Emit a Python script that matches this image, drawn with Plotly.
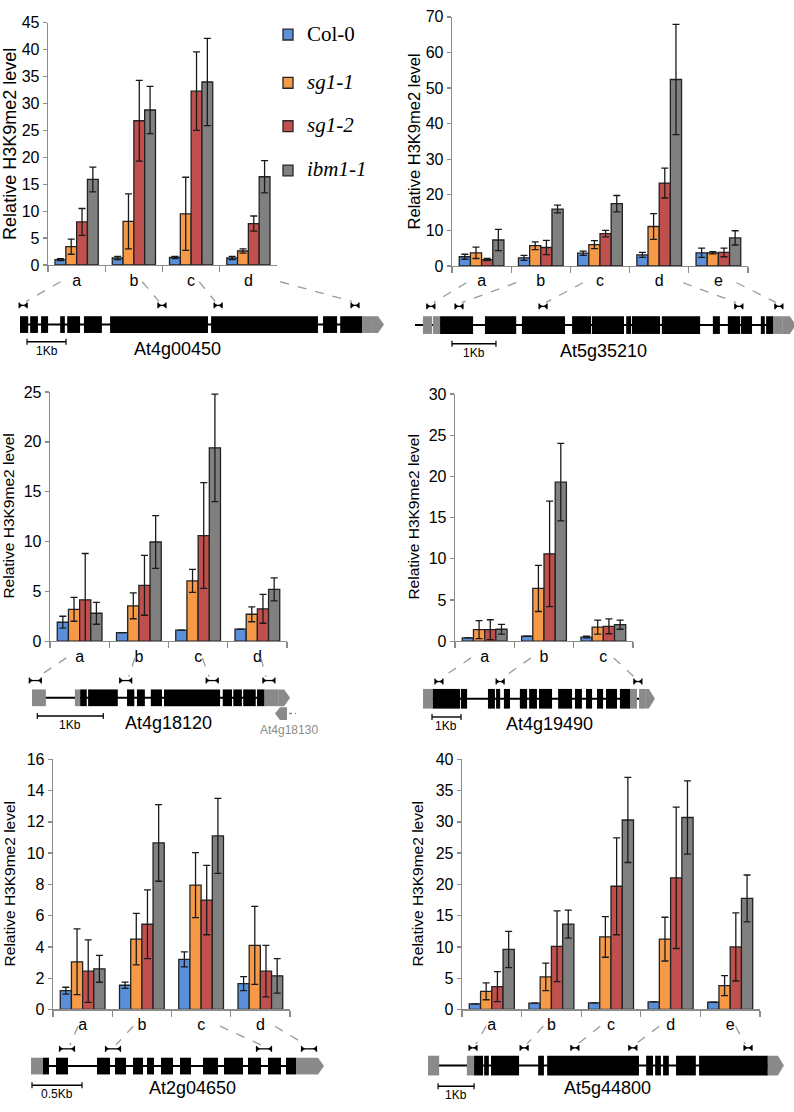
import plotly.graph_objects as go

W, H = 794, 1112

SERIES_NAMES = ["Col-0", "sg1-1", "sg1-2", "ibm1-1"]
SERIES_LABELS = ["Col-0", "<i>sg1-1</i>", "<i>sg1-2</i>", "<i>ibm1-1</i>"]
COLORS = ["#5b8fd9", "#f79a48", "#c0504d", "#808080"]

# ---------------- data: At4g00450 ----------------
G1_CATS = ["a", "b", "c", "d"]
G1_COL0 = [1.0, 1.3, 1.4, 1.3]
G1_COL0_ERR = [0.2, 0.3, 0.2, 0.3]
G1_SG11 = [3.4, 8.1, 9.5, 2.6]
G1_SG11_ERR = [1.4, 5.1, 6.8, 0.4]
G1_SG12 = [8.0, 26.8, 32.3, 7.7]
G1_SG12_ERR = [2.5, 7.5, 7.3, 1.4]
G1_IBM = [15.9, 28.8, 34.0, 16.4]
G1_IBM_ERR = [2.3, 4.4, 8.1, 3.0]

# ---------------- data: At5g35210 ----------------
G2_CATS = ["a", "b", "c", "d", "e"]
G2_COL0 = [2.6, 2.3, 3.6, 3.1, 3.7]
G2_COL0_ERR = [0.7, 0.7, 0.6, 0.7, 1.3]
G2_SG11 = [3.7, 5.7, 6.0, 11.1, 3.7]
G2_SG11_ERR = [1.6, 1.1, 1.1, 3.6, 0.3]
G2_SG12 = [1.8, 5.2, 9.1, 23.3, 3.8]
G2_SG12_ERR = [0.3, 2.0, 0.9, 4.2, 1.2]
G2_IBM = [7.3, 16.0, 17.5, 52.4, 7.9]
G2_IBM_ERR = [3.0, 1.1, 2.3, 15.5, 2.0]

# ---------------- data: At4g18120 ----------------
G3_CATS = ["a", "b", "c", "d"]
G3_COL0 = [1.9, 0.85, 1.1, 1.2]
G3_COL0_ERR = [0.6, 0.0, 0.0, 0.0]
G3_SG11 = [3.2, 3.55, 6.05, 2.7]
G3_SG11_ERR = [1.2, 1.3, 1.15, 0.75]
G3_SG12 = [4.15, 5.6, 10.6, 3.25]
G3_SG12_ERR = [4.65, 3.0, 5.3, 1.45]
G3_IBM = [2.8, 9.95, 19.4, 5.2]
G3_IBM_ERR = [1.1, 2.65, 5.4, 1.15]

# ---------------- data: At4g19490 ----------------
G4_CATS = ["a", "b", "c"]
G4_COL0 = [0.4, 0.6, 0.5]
G4_COL0_ERR = [0.0, 0.0, 0.1]
G4_SG11 = [1.4, 6.4, 1.7]
G4_SG11_ERR = [1.1, 2.8, 0.85]
G4_SG12 = [1.4, 10.6, 1.8]
G4_SG12_ERR = [1.2, 6.4, 0.9]
G4_IBM = [1.45, 19.3, 2.0]
G4_IBM_ERR = [0.6, 4.7, 0.55]

# ---------------- data: At2g04650 ----------------
G5_CATS = ["a", "b", "c", "d"]
G5_COL0 = [1.2, 1.55, 3.2, 1.65]
G5_COL0_ERR = [0.22, 0.2, 0.48, 0.45]
G5_SG11 = [3.05, 4.5, 7.95, 4.1]
G5_SG11_ERR = [2.1, 1.65, 2.08, 2.5]
G5_SG12 = [2.45, 5.45, 7.0, 2.45]
G5_SG12_ERR = [2.0, 2.2, 2.22, 1.65]
G5_IBM = [2.6, 10.65, 11.1, 2.15]
G5_IBM_ERR = [0.86, 2.45, 2.4, 1.1]

# ---------------- data: At5g44800 ----------------
G6_CATS = ["a", "b", "c", "d", "e"]
G6_COL0 = [0.9, 1.0, 1.05, 1.2, 1.15]
G6_COL0_ERR = [0.0, 0.0, 0.0, 0.0, 0.0]
G6_SG11 = [2.9, 5.2, 11.6, 11.25, 3.8]
G6_SG11_ERR = [1.35, 2.2, 3.25, 3.5, 1.6]
G6_SG12 = [3.65, 10.1, 19.7, 21.05, 10.0]
G6_SG12_ERR = [2.4, 5.65, 7.75, 11.3, 5.45]
G6_IBM = [9.6, 13.65, 30.3, 30.7, 17.75]
G6_IBM_ERR = [2.9, 2.25, 6.8, 5.85, 3.75]

# ---------------- gene structures (kb) ----------------
S1_EXONS = [(0, 0.21), (0.26, 0.46), (0.54, 0.72), (1.03, 1.15), (1.21, 1.54), (1.64, 2.10),
            (2.31, 4.82), (4.90, 7.64), (7.77, 8.13), (8.21, 8.77)]
S1_UTR = [(8.77, 9.05)]
S1_LINE = (0.0, 8.77)
S1_TIP = (9.05, 9.18)
S1_PRIMERS = [0.08, 3.64, 5.08, 8.59]

S2_EXONS = [(0.57, 1.32), (1.59, 2.30), (2.43, 3.41), (3.57, 4.00), (4.02, 4.75), (4.80, 4.91),
            (4.93, 5.57), (5.61, 6.48), (6.77, 6.93), (7.11, 7.39), (7.41, 7.66), (7.86, 7.95),
            (7.98, 8.14)]
S2_UTR = [(0.18, 0.39), (0.41, 0.57), (8.14, 8.36)]
S2_LINE = (0.0, 8.14)
S2_TIP = (8.36, 8.52)
S2_PRIMERS = [0.36, 1.00, 2.91, 7.36, 8.27]

S3_EXONS = [(0.73, 0.83), (0.85, 1.30), (1.44, 1.55), (1.59, 1.71), (1.80, 1.97), (2.00, 2.85),
            (2.89, 3.03), (3.05, 3.18), (3.20, 3.39), (3.41, 3.52)]
S3_UTR = [(0.0, 0.21), (0.65, 0.73), (3.52, 3.73)]
S3_LINE = (0.0, 3.52)
S3_TIP = (3.73, 3.82)
S3_PRIMERS = [0.05, 1.42, 2.73, 3.59]

S4_EXONS = [(0.34, 1.28), (1.31, 1.52), (2.24, 2.48), (2.52, 2.66), (2.79, 3.00), (3.34, 3.59),
            (3.66, 3.93), (4.00, 4.45), (4.66, 5.14), (5.24, 5.48), (5.62, 5.83), (6.00, 6.21),
            (6.31, 6.69), (6.79, 7.14)]
S4_UTR = [(0.0, 0.34), (7.14, 7.38), (7.45, 7.66)]
S4_LINE = (0.0, 7.45)
S4_TIP = (7.66, 7.79)
S4_PRIMERS = [0.55, 2.66, 7.41]

S5_EXONS = [(0.12, 0.18), (0.25, 0.37), (0.66, 0.79), (0.84, 0.95), (1.02, 1.12), (1.16, 1.23),
            (1.30, 1.42), (1.49, 1.60), (1.72, 1.87), (1.93, 2.12), (2.17, 2.30), (2.37, 2.50),
            (2.55, 2.65)]
S5_UTR = [(0.0, 0.12), (2.65, 2.82)]
S5_LINE = (0.0, 2.65)
S5_TIP = (2.82, 2.87)
S5_PRIMERS = [0.36, 0.82, 2.33, 2.78]

S6_EXONS = [(1.28, 1.53), (1.56, 1.69), (1.75, 2.53), (3.06, 3.22), (3.31, 5.86), (6.06, 6.25),
            (6.31, 6.47), (6.53, 6.69), (6.89, 7.44), (7.53, 9.44)]
S6_UTR = [(0.0, 0.31), (1.08, 1.28)]
S6_LINE = (0.0, 9.44)
S6_TIP = (9.44, 9.72)
S6_PRIMERS = [1.25, 2.67, 4.08, 5.69, 8.89]


def px(x):
    return x / W


def py(y):
    return 1 - y / H


PANELS = [
    dict(cats=G1_CATS, vals=[G1_COL0, G1_SG11, G1_SG12, G1_IBM],
         errs=[G1_COL0_ERR, G1_SG11_ERR, G1_SG12_ERR, G1_IBM_ERR],
         ymax=45, dtick=5, xd=(48, 277), yd=(15, 261), title_x=10, title_fs=18,
         gene="At4g00450", exons=S1_EXONS, utr=S1_UTR, line=S1_LINE, tip=S1_TIP, primers=S1_PRIMERS,
         origin=20, scale=39, gy=321.5, hh=8.5, pry=302, prw=8,
         bar=(0.18, 1.18), bar_y=339, bar_label="1Kb", name_xy=(177, 346)),
    dict(cats=G2_CATS, vals=[G2_COL0, G2_SG11, G2_SG12, G2_IBM],
         errs=[G2_COL0_ERR, G2_SG11_ERR, G2_SG12_ERR, G2_IBM_ERR],
         ymax=70, dtick=10, xd=(452, 748), yd=(9, 262), title_x=414, title_fs=16.5,
         gene="At5g35210", exons=S2_EXONS, utr=S2_UTR, line=S2_LINE, tip=S2_TIP, primers=S2_PRIMERS,
         origin=415, scale=44, gy=322, hh=9, pry=303, prw=8,
         bar=(0.84, 1.84), bar_y=341, bar_label="1Kb", name_xy=(603, 348)),
    dict(cats=G3_CATS, vals=[G3_COL0, G3_SG11, G3_SG12, G3_IBM],
         errs=[G3_COL0_ERR, G3_SG11_ERR, G3_SG12_ERR, G3_IBM_ERR],
         ymax=25, dtick=5, xd=(50, 287), yd=(390, 643), title_x=9, title_fs=15.5,
         gene="At4g18120", exons=S3_EXONS, utr=S3_UTR, line=S3_LINE, tip=S3_TIP, primers=S3_PRIMERS,
         origin=32, scale=66, gy=700.5, hh=8.5, pry=683, prw=12,
         bar=(0.08, 1.08), bar_y=719, bar_label="1Kb", name_xy=(168, 726)),
    dict(cats=G4_CATS, vals=[G4_COL0, G4_SG11, G4_SG12, G4_IBM],
         errs=[G4_COL0_ERR, G4_SG11_ERR, G4_SG12_ERR, G4_IBM_ERR],
         ymax=30, dtick=5, xd=(455, 633), yd=(392, 643), title_x=414, title_fs=15.5,
         gene="At4g19490", exons=S4_EXONS, utr=S4_UTR, line=S4_LINE, tip=S4_TIP, primers=S4_PRIMERS,
         origin=423, scale=29, gy=701.5, hh=10, pry=684, prw=8,
         bar=(0.31, 1.31), bar_y=720, bar_label="1Kb", name_xy=(549, 727)),
    dict(cats=G5_CATS, vals=[G5_COL0, G5_SG11, G5_SG12, G5_IBM],
         errs=[G5_COL0_ERR, G5_SG11_ERR, G5_SG12_ERR, G5_IBM_ERR],
         ymax=16, dtick=2, xd=(53, 290), yd=(763, 1017), title_x=9, title_fs=15.5,
         gene="At2g04650", exons=S5_EXONS, utr=S5_UTR, line=S5_LINE, tip=S5_TIP, primers=S5_PRIMERS,
         origin=31, scale=100, gy=1074.5, hh=8.5, pry=1057, prw=15,
         bar=(0.01, 0.51), bar_y=1094, bar_label="0.5Kb", name_xy=(192, 1097)),
    dict(cats=G6_CATS, vals=[G6_COL0, G6_SG11, G6_SG12, G6_IBM],
         errs=[G6_COL0_ERR, G6_SG11_ERR, G6_SG12_ERR, G6_IBM_ERR],
         ymax=40, dtick=5, xd=(462, 760), yd=(763, 1017), title_x=417, title_fs=15.5,
         gene="At5g44800", exons=S6_EXONS, utr=S6_UTR, line=S6_LINE, tip=S6_TIP, primers=S6_PRIMERS,
         origin=428, scale=36, gy=1074, hh=10, pry=1056, prw=8,
         bar=(0.28, 1.28), bar_y=1095, bar_label="1Kb", name_xy=(607, 1097)),
]

AXIS_GREY = "#8c8c8c"
TICK_FONT = dict(family="Liberation Sans, Arial, sans-serif", size=16, color="#000")

fig = go.Figure()
layout = dict(width=W, height=H, margin=dict(l=0, r=0, t=0, b=0), autosize=False,
              paper_bgcolor="white", plot_bgcolor="white", barmode="group",
              bargap=0.245, bargroupgap=0, showlegend=False)
shapes = []
annotations = []


def rect(x0, x1, y0, y1, color):
    shapes.append(dict(type="rect", xref="paper", yref="paper", x0=px(x0), x1=px(x1),
                       y0=py(y1), y1=py(y0), fillcolor=color, line=dict(width=0), layer="above"))


def seg(x0, y0, x1, y1, color, width, dash="solid"):
    shapes.append(dict(type="line", xref="paper", yref="paper", x0=px(x0), y0=py(y0),
                       x1=px(x1), y1=py(y1), line=dict(color=color, width=width, dash=dash), layer="above"))


def poly(points, color):
    d = "M" + " L".join(f"{px(a):.5f},{py(b):.5f}" for a, b in points) + " Z"
    shapes.append(dict(type="path", xref="paper", yref="paper", path=d, fillcolor=color,
                       line=dict(width=0), layer="above"))


for i, P in enumerate(PANELS):
    ax = "" if i == 0 else str(i + 1)
    for s in range(4):
        fig.add_trace(go.Bar(
            x=P["cats"], y=P["vals"][s], name=SERIES_NAMES[s],
            marker=dict(color=COLORS[s], line=dict(color="#222222", width=1.3)),
            error_y=dict(type="data", array=P["errs"][s], visible=True, color="#1a1a1a",
                         thickness=1.3, width=3.5),
            xaxis="x" + ax, yaxis="y" + ax, showlegend=False))
    x0, x1 = P["xd"]
    y0, y1 = P["yd"]
    layout["xaxis" + ax] = dict(domain=[px(x0), px(x1)], anchor="y" + ax, type="category",
                                showline=True, linecolor=AXIS_GREY, linewidth=1.3,
                                ticks="outside", tickson="boundaries", ticklen=6,
                                tickcolor=AXIS_GREY, tickwidth=1.3, tickfont=TICK_FONT,
                                showgrid=False, fixedrange=True)
    layout["yaxis" + ax] = dict(domain=[py(y1), py(y0)], anchor="x" + ax, range=[0, P["ymax"]],
                                dtick=P["dtick"], tick0=0, showline=True, linecolor=AXIS_GREY,
                                linewidth=1.3, ticks="outside", ticklen=4, tickcolor=AXIS_GREY,
                                tickwidth=1.3, tickfont=TICK_FONT, showgrid=False,
                                zeroline=False, fixedrange=True)
    # y-axis title
    annotations.append(dict(text="Relative H3K9me2 level", xref="paper", yref="paper",
                            x=px(P["title_x"]), y=py((y0 + y1) / 2), textangle=-90,
                            showarrow=False, xanchor="center", yanchor="middle",
                            font=dict(family="Liberation Sans, Arial, sans-serif",
                                      size=P["title_fs"], color="#000")))

    # gene diagram
    o, sc, gy, hh = P["origin"], P["scale"], P["gy"], P["hh"]

    def gx(kb):
        return o + kb * sc

    seg(gx(P["line"][0]), gy, gx(P["line"][1]), gy, "#000", 2)
    for a, b in P["utr"]:
        rect(gx(a), gx(b), gy - hh, gy + hh, "#8a8a8a")
    for a, b in P["exons"]:
        rect(gx(a), gx(b), gy - hh, gy + hh, "#000")
    t0, t1 = P["tip"]
    poly([(gx(t0), gy - hh), (gx(t1) + 0.01, gy - hh), (gx(t1) + 6, gy),
          (gx(t1) + 0.01, gy + hh), (gx(t0), gy + hh)], "#8a8a8a")

    # primers and dashed connectors
    n = len(P["cats"])
    cw = (x1 - x0) / n
    for k, pk in enumerate(P["primers"]):
        cx = gx(pk)
        w = P["prw"] / 2
        yy = P["pry"]
        seg(cx - w, yy, cx + w, yy, "#000", 1.3)
        poly([(cx - w, yy - 2.6), (cx - w, yy + 2.6), (cx - w + 3.6, yy)], "#000")
        poly([(cx + w, yy - 2.6), (cx + w, yy + 2.6), (cx + w - 3.6, yy)], "#000")
        seg(cx - w, yy - 3, cx - w, yy + 3, "#000", 1.2)
        seg(cx + w, yy - 3, cx + w, yy + 3, "#000", 1.2)
        catx = x0 + (k + 0.5) * cw
        sx = catx + 0.3 * (cx - catx)
        sy = y1 + 17
        ex = cx + (3 if cx < sx else -3)
        seg(sx, sy, ex, yy - 4, "#9a9a9a", 1.3, "dash")

    # scale bar
    b0, b1 = P["bar"]
    seg(gx(b0), P["bar_y"], gx(b1), P["bar_y"], "#000", 1.4)
    seg(gx(b0), P["bar_y"] - 3, gx(b0), P["bar_y"] + 3, "#000", 1.2)
    seg(gx(b1), P["bar_y"] - 3, gx(b1), P["bar_y"] + 3, "#000", 1.2)
    annotations.append(dict(text=P["bar_label"], xref="paper", yref="paper",
                            x=px((gx(b0) + gx(b1)) / 2), y=py(P["bar_y"] + 9),
                            showarrow=False, xanchor="center", yanchor="middle",
                            font=dict(family="Liberation Sans, Arial, sans-serif", size=12,
                                      color="#000")))
    nx, ny = P["name_xy"]
    annotations.append(dict(text=P["gene"], xref="paper", yref="paper", x=px(nx), y=py(ny),
                            showarrow=False, xanchor="center", yanchor="middle",
                            font=dict(family="Liberation Sans, Arial, sans-serif", size=18,
                                      color="#000")))

# neighbouring gene At4g18130 (reverse strand) next to At4g18120
poly([(287, 710), (280, 710), (275, 716.5), (280, 723), (287, 723)], "#8a8a8a")
seg(289, 716.5, 296, 716.5, "#8a8a8a", 1.5, "dot")
annotations.append(dict(text="At4g18130", xref="paper", yref="paper", x=px(289), y=py(733),
                        showarrow=False, xanchor="center", yanchor="middle",
                        font=dict(family="Liberation Sans, Arial, sans-serif", size=12,
                                  color="#8a8a8a")))

# legend (manual)
LEG_Y = [27, 76, 120, 165]
for s in range(4):
    yy = LEG_Y[s]
    shapes.append(dict(type="rect", xref="paper", yref="paper", x0=px(283), x1=px(293),
                       y0=py(yy + 5.5), y1=py(yy - 5.5), fillcolor=COLORS[s],
                       line=dict(color="#262626", width=1.3)))
    annotations.append(dict(text=SERIES_LABELS[s], xref="paper", yref="paper", x=px(305),
                            y=py(yy - 1), showarrow=False, xanchor="left", yanchor="middle",
                            font=dict(family="Liberation Serif, Times New Roman, serif", size=21,
                                      color="#000")))

layout["shapes"] = shapes
layout["annotations"] = annotations
fig.update_layout(**layout)
fig.write_html("out.html", config={"displayModeBar": False, "staticPlot": True},
               post_script="document.body.style.margin='0';document.body.style.padding='0';"
                           "document.documentElement.style.overflow='hidden';")
